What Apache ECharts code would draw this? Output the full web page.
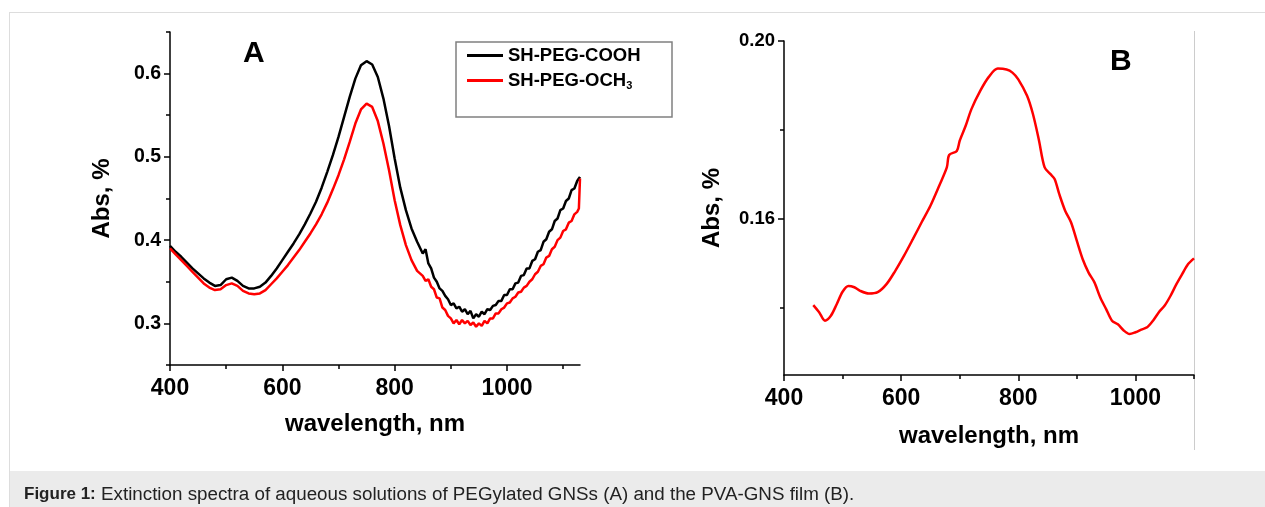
<!DOCTYPE html>
<html>
<head>
  <meta charset="UTF-8">
  <title>Extinction spectra</title>
  <style>
    html, body { margin: 0; padding: 0; background: #fff; }
    #main { width: 1265px; height: 507px; }
  </style>
</head>
<body>
<div id="main"></div>
<script src="https://cdn.jsdelivr.net/npm/echarts@6/dist/echarts.min.js"></script>
<script>
  // panel A: wavelength (nm) shared by both curves
  var waveA = [400, 410, 420, 430, 440, 450, 460, 470, 480, 490,
    500, 510, 520, 530, 540, 550, 560, 570, 580, 590,
    600, 610, 620, 630, 640, 650, 660, 670, 680, 690,
    700, 710, 720, 730, 740, 750, 760, 770, 780, 790,
    800, 810, 820, 830, 840,
    850, 855, 860, 865, 870, 875, 880, 885, 890, 895,
    900, 905, 910, 915, 920, 925, 930, 935, 940, 945,
    950, 955, 960, 965, 970, 975, 980, 985, 990, 995,
    1000, 1005, 1010, 1015, 1020, 1025, 1030, 1035, 1040, 1045,
    1050, 1055, 1060, 1065, 1070, 1075, 1080, 1085, 1090, 1095,
    1100, 1105, 1110, 1115, 1120, 1125, 1128, 1130];
  // SH-PEG-COOH (black)
  var absCooh = [.393, .386, .380, .373, .366, .360, .354, .349, .345, .346,
    .353, .355, .351, .345, .342, .342, .344, .349, .357, .366,
    .376, .386, .396, .407, .419, .432, .446, .463, .482, .502,
    .524, .548, .572, .594, .610, .615, .611, .596, .570, .537,
    .498, .463, .436, .414, .398,
    .384, .389, .372, .366, .355, .350, .342, .339, .333, .329,
    .322, .324, .318, .320, .314, .317, .311, .315, .306, .311,
    .308, .314, .311, .317, .316, .321, .322, .327, .327, .334,
    .334, .341, .341, .348, .349, .357, .358, .366, .366, .375,
    .377, .386, .388, .398, .401, .410, .413, .423, .426, .436,
    .438, .447, .450, .460, .462, .471, .474, .476];
  // SH-PEG-OCH3 (red)
  var absOch3 = [.390, .383, .376, .369, .362, .355, .348, .343, .340, .341,
    .346, .348, .345, .339, .336, .335, .336, .340, .347, .354,
    .362, .370, .379, .388, .398, .408, .419, .431, .445, .461,
    .478, .497, .518, .540, .557, .564, .560, .543, .516, .484,
    .448, .418, .394, .376, .363,
    .357, .351, .353, .344, .341, .331, .330, .319, .316, .309,
    .306, .300, .304, .299, .304, .300, .303, .298, .301, .296,
    .300, .297, .303, .300, .306, .306, .312, .312, .317, .319,
    .324, .325, .330, .332, .337, .338, .343, .345, .350, .353,
    .359, .362, .369, .371, .379, .381, .389, .392, .400, .403,
    .411, .413, .421, .423, .431, .434, .438, .474];

  // panel B: PVA-GNS film
  var waveB = [450, 460, 470, 480, 490, 500, 510, 520, 530, 545,
    560, 575, 590, 605, 620, 635, 650, 665, 678, 682,
    695, 700, 710, 720, 735, 750, 765, 780, 790, 800,
    815, 825, 835, 845, 855, 862, 870, 880, 890, 900,
    910, 920, 930, 940, 950, 960, 970, 980, 990, 1000,
    1010, 1020, 1030, 1040, 1050, 1060, 1070, 1080, 1090, 1100];
  var absFilm = [.1407, .1391, .1372, .1383, .1409, .1437, .1450, .1447, .1439, .1433,
    .1436, .1454, .1484, .1518, .1555, .1593, .1630, .1675, .1716, .1744,
    .1753, .1776, .1809, .1847, .1888, .1920, .1938, .1936, .1929, .1914,
    .1877, .1836, .1779, .1716, .1701, .1690, .1656, .1619, .1593, .1551,
    .1510, .1480, .1458, .1424, .1398, .1372, .1364, .1350, .1342, .1346,
    .1352, .1357, .1372, .1391, .1406, .1428, .1454, .1477, .1499, .1512];

  // ticks
  var xMajorA = [400, 600, 800, 1000];
  var xMinorA = [500, 700, 900, 1100];
  var yMajorA = [0.3, 0.4, 0.5, 0.6];
  var yMinorA = [0.25, 0.35, 0.45, 0.55, 0.65];
  var xMajorB = [400, 600, 800, 1000];
  var xMinorB = [500, 700, 900, 1100];
  var yMajorB = [0.16, 0.20];
  var yMinorB = [0.14, 0.18];

  var FONT = '"Liberation Sans", Arial, sans-serif';
  var black = '#000';

  function pairs (xs, ys) {
    return xs.map(function (x, i) { return [x, ys[i]]; });
  }
  function plain (v) { return String(v); }

  // main axis with line, major ticks and labels
  function mainAxis (grid, pos, min, max, ticks, fmt, labelSize, margin, name, gap) {
    return {
      type: 'value', gridIndex: grid, position: pos, min: min, max: max,
      axisLine: { show: true, onZero: false, lineStyle: { color: black, width: 1.5 } },
      axisTick: { show: true, customValues: ticks, length: 6, lineStyle: { color: black, width: 1.5 } },
      axisLabel: {
        customValues: ticks, formatter: fmt, margin: margin,
        fontSize: labelSize, fontWeight: 'bold', fontFamily: FONT, color: black
      },
      splitLine: { show: false },
      name: name, nameLocation: 'middle', nameGap: gap,
      nameTextStyle: { fontSize: 24, fontWeight: 'bold', fontFamily: FONT, color: black }
    };
  }
  // overlay axis for the short minor ticks only
  function minorAxis (grid, pos, min, max, ticks) {
    return {
      type: 'value', gridIndex: grid, position: pos, min: min, max: max,
      axisLine: { show: false, onZero: false },
      axisTick: { show: true, customValues: ticks, length: 4, lineStyle: { color: black, width: 1.5 } },
      axisLabel: { show: false },
      splitLine: { show: false }
    };
  }

  var chart = echarts.init(document.getElementById('main'));
  var option = {
    animation: false,
    backgroundColor: '#fff',
    grid: [
      { left: 170, top: 32, width: 410, height: 333 },
      { left: 784, top: 41, width: 410, height: 334 }
    ],
    xAxis: [
      mainAxis(0, 'bottom', 400, 1130, xMajorA, plain, 23, 12, 'wavelength, nm', 47),
      minorAxis(0, 'bottom', 400, 1130, xMinorA),
      mainAxis(1, 'bottom', 400, 1100, xMajorB, plain, 23, 12, 'wavelength, nm', 49),
      minorAxis(1, 'bottom', 400, 1100, xMinorB)
    ],
    yAxis: [
      mainAxis(0, 'left', 0.25, 0.65, yMajorA, function (v) { return v.toFixed(1); }, 19.5, 9, 'Abs, %', 56),
      minorAxis(0, 'left', 0.25, 0.65, yMinorA),
      mainAxis(1, 'left', 0.125, 0.20, yMajorB, function (v) { return v.toFixed(2); }, 18.5, 9, 'Abs, %', 60),
      minorAxis(1, 'left', 0.125, 0.20, yMinorB)
    ],
    legend: {
      data: [
        { name: 'SH-PEG-COOH', icon: 'rect' },
        { name: 'SH-PEG-OCH3', icon: 'rect' }
      ],
      orient: 'vertical', left: 462, top: 41,
      itemWidth: 36, itemHeight: 3, itemGap: 6,
      formatter: function (name) {
        return name === 'SH-PEG-OCH3' ? '{n|SH-PEG-OCH}{s|3}' : '{n|' + name + '}';
      },
      textStyle: {
        color: black, fontFamily: FONT, fontWeight: 'bold', fontSize: 18.5,
        rich: {
          n: { fontSize: 18.5, fontWeight: 'bold', fontFamily: FONT, color: black, lineHeight: 22 },
          s: { fontSize: 11, fontWeight: 'bold', fontFamily: FONT, color: black, verticalAlign: 'bottom', lineHeight: 22 }
        }
      }
    },
    series: [
      {
        name: 'SH-PEG-COOH', type: 'line', xAxisIndex: 0, yAxisIndex: 0,
        data: pairs(waveA, absCooh), symbol: 'none', color: '#000',
        lineStyle: { color: '#000', width: 2.5 }
      },
      {
        name: 'SH-PEG-OCH3', type: 'line', xAxisIndex: 0, yAxisIndex: 0,
        data: pairs(waveA, absOch3), symbol: 'none', color: '#ff0000',
        lineStyle: { color: '#ff0000', width: 2.5 }
      },
      {
        name: 'PVA-GNS film', type: 'line', xAxisIndex: 2, yAxisIndex: 2,
        data: pairs(waveB, absFilm), symbol: 'none', smooth: 0.3, color: '#ff0000',
        lineStyle: { color: '#ff0000', width: 2.5 }
      }
    ],
    graphic: [
      // page frame
      { type: 'line', shape: { x1: 9, y1: 12.5, x2: 1265, y2: 12.5 }, style: { stroke: '#dddddd', lineWidth: 1 } },
      { type: 'rect', shape: { x: 9, y: 471, width: 1256, height: 36 }, style: { fill: '#ebebeb' } },
      { type: 'line', shape: { x1: 9.5, y1: 12, x2: 9.5, y2: 507 }, style: { stroke: '#dddddd', lineWidth: 1 } },
      { type: 'line', shape: { x1: 1194.5, y1: 31, x2: 1194.5, y2: 450 }, style: { stroke: '#cccccc', lineWidth: 1 } },
      // legend box
      { type: 'rect', shape: { x: 456, y: 42, width: 216, height: 75 }, style: { fill: 'none', stroke: '#808080', lineWidth: 1.5 } },
      // panel letters
      { type: 'text', left: 243, top: 39, style: { text: 'A', fontSize: 30, fontWeight: 'bold', fontFamily: FONT, fill: black } },
      { type: 'text', left: 1110, top: 47, style: { text: 'B', fontSize: 30, fontWeight: 'bold', fontFamily: FONT, fill: black } },
      // caption
      {
        type: 'text', left: 24, top: 485,
        style: {
          text: '{b|Figure 1:}{n| Extinction spectra of aqueous solutions of PEGylated GNSs (A) and the PVA-GNS film (B).}',
          fontSize: 17, fontFamily: FONT, fill: '#222',
          rich: {
            b: { fontSize: 17, fontWeight: 'bold', fontFamily: FONT, fill: '#222', lineHeight: 20 },
            n: { fontSize: 18.8, fontFamily: FONT, fill: '#222', lineHeight: 20 }
          }
        }
      }
    ]
  };
  chart.setOption(option);
</script>
</body>
</html>
